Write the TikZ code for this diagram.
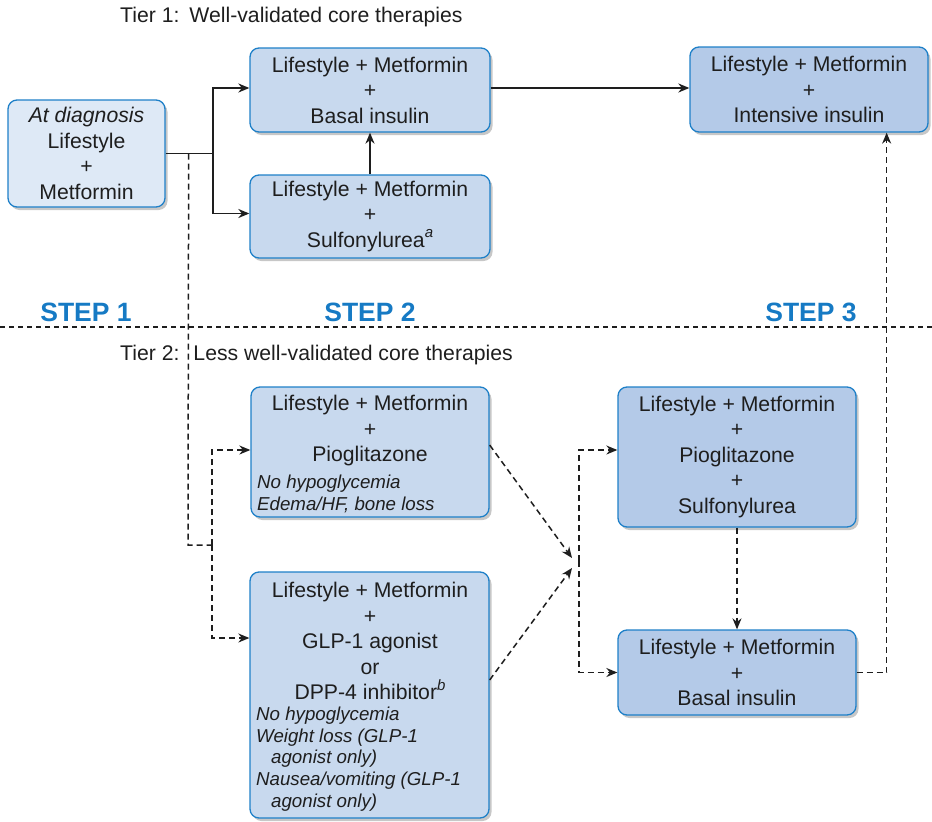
\documentclass[tikz,border=0pt]{standalone}
\usepackage{fontspec}
\setmainfont{Liberation Sans}
\usetikzlibrary{arrows.meta,shadows,calc}
\definecolor{boxblue}{RGB}{30,128,200}
\definecolor{fillA}{RGB}{222,233,246}
\definecolor{fillB}{RGB}{200,217,238}
\definecolor{fillC}{RGB}{180,202,232}
\definecolor{stepblue}{RGB}{22,122,196}
\definecolor{textc}{RGB}{30,30,30}
\newcommand\mainfs{\fontsize{21.2}{25.5}\selectfont}
\newcommand\notefs{\fontsize{18.7}{21.8}\selectfont\itshape}
\newcommand\tierfs{\fontsize{21.2}{23}\selectfont}
\newcommand\stepfs{\fontsize{26.5}{30}\selectfont\bfseries}
\newcommand\supit[1]{\raisebox{0.45em}{\fontsize{15}{15}\selectfont\itshape #1}}
\begin{document}
\begin{tikzpicture}[x=1pt,y=-1pt,
  box/.style={draw=boxblue, line width=1.3pt, rounded corners=9pt, inner sep=0pt,
    align=center, font=\mainfs, text=textc,
    drop shadow={shadow xshift=2.5pt, shadow yshift=-3pt, fill=black, opacity=0.22}},
  maintxt/.style={align=center, font=\mainfs, text=textc, inner sep=0pt},
  notetxt/.style={align=left, font=\notefs, text=textc, inner sep=0pt},
  steplbl/.style={font=\stepfs, text=stepblue, inner sep=0pt},
  tierlbl/.style={font=\tierfs, text=textc, inner sep=0pt, anchor=west},
  solidline/.style={line width=1.8pt, draw=textc},
  solidarrow/.style={solidline, -{Stealth[length=11pt,width=9pt]}},
  dashline/.style={line width=1.5pt, draw=textc, dash pattern=on 6pt off 4pt},
  dasharrow/.style={dashline, -{Stealth[length=11pt,width=9pt]}},
  divider/.style={line width=1.2pt, draw=textc, dash pattern=on 5pt off 4pt}]
\useasboundingbox (0,0) rectangle (932,822);

% tier labels
\node[tierlbl] (t1) at (120,17) {Tier 1:\hspace{10pt}Well-validated core therapies};
\node[tierlbl] (t2) at (120,355) {Tier 2:\hspace{14pt}Less well-validated core therapies};

% step labels
\node[steplbl] (s1) at (86,312) {STEP 1};
\node[steplbl] (s2) at (370,312) {STEP 2};
\node[steplbl] (s3) at (811,312) {STEP 3};

% divider
\coordinate (dl) at (0,327);
\coordinate (dr) at (932,327);
\draw[divider] (dl) -- (dr);

% boxes
\node[box, fill=fillA, minimum width=157pt, minimum height=107pt] (A) at (86.5,153.5)
  {\textit{At diagnosis}\\Lifestyle\\+\\Metformin};
\node[box, fill=fillB, minimum width=240pt, minimum height=84pt] (B) at (370,90)
  {Lifestyle + Metformin\\+\\Basal insulin};
\node[box, fill=fillB, minimum width=240pt, minimum height=83pt] (C) at (370,216.5)
  {Lifestyle + Metformin\\+\\Sulfonylurea\supit{a}};
\node[box, fill=fillC, minimum width=238pt, minimum height=85pt] (D) at (809,89.5)
  {Lifestyle + Metformin\\+\\Intensive insulin};
\node[box, fill=fillB, minimum width=238pt, minimum height=130pt] (E) at (370,452) {};
\node[maintxt] (Et) at (370,431) {Lifestyle + Metformin\\+\\Pioglitazone};
\node[notetxt, anchor=west] (En) at (257,494) {No hypoglycemia\\Edema/HF, bone loss};
\node[box, fill=fillB, minimum width=239pt, minimum height=246pt] (F) at (369.5,695) {};
\node[maintxt] (Ft) at (370,641) {Lifestyle + Metformin\\+\\GLP-1 agonist\\or\\DPP-4 inhibitor\supit{b}};
\node[notetxt, anchor=west] (Fn) at (256,759) {No hypoglycemia\\Weight loss (GLP-1\\\hspace*{15pt}agonist only)\\Nausea/vomiting (GLP-1\\\hspace*{15pt}agonist only)};
\node[box, fill=fillC, minimum width=238pt, minimum height=140pt] (G) at (737,457)
  {Lifestyle + Metformin\\+\\Pioglitazone\\+\\Sulfonylurea};
\node[box, fill=fillC, minimum width=238pt, minimum height=85pt] (H) at (737,672.5)
  {Lifestyle + Metformin\\+\\Basal insulin};

% tier 1 connectors
\coordinate (j1) at ($(A.east)+(47,0)$);
\draw[solidline] (A.east) -- (j1);
\draw[solidarrow] (j1) |- ([yshift=2pt]B.west);
\draw[solidarrow] (j1) |- ([yshift=3pt]C.west);
\draw[solidarrow] (C.north) -- (B.south);
\draw[solidarrow] ([yshift=2pt]B.east) -- ([yshift=1.5pt]D.west);

% tier 2 connectors
\coordinate (j0) at ($(A.east)+(23,0)$);
\coordinate (j2) at (188,545);
\coordinate (j3) at (212,545);
\draw[dashline] (j0) -- (j2) -- (j3);
\draw[dasharrow] (j3) |- ([yshift=2pt]E.west);
\coordinate (Fin) at ([yshift=57pt]F.west);
\draw[dasharrow] (j3) |- (Fin);

\coordinate (Eout) at ([yshift=7pt]E.east);
\coordinate (Fout) at ([yshift=15pt]F.east);
\coordinate (m1) at (572,558);
\coordinate (m2) at (572,568);
\draw[dasharrow] (Eout) -- (m1);
\draw[dasharrow] (Fout) -- (m2);

\coordinate (km) at (579,561);
\coordinate (Gin) at ([yshift=7pt]G.west);
\draw[dasharrow] (km) |- (Gin);
\draw[dasharrow] (km) |- (H.west);
\draw[dasharrow] (G.south) -- (H.north);

\coordinate (r1) at ($(H.east)+(30,0)$);
\draw[dasharrow] (H.east) -- (r1) -- (r1 |- D.south);
\end{tikzpicture}
\end{document}
